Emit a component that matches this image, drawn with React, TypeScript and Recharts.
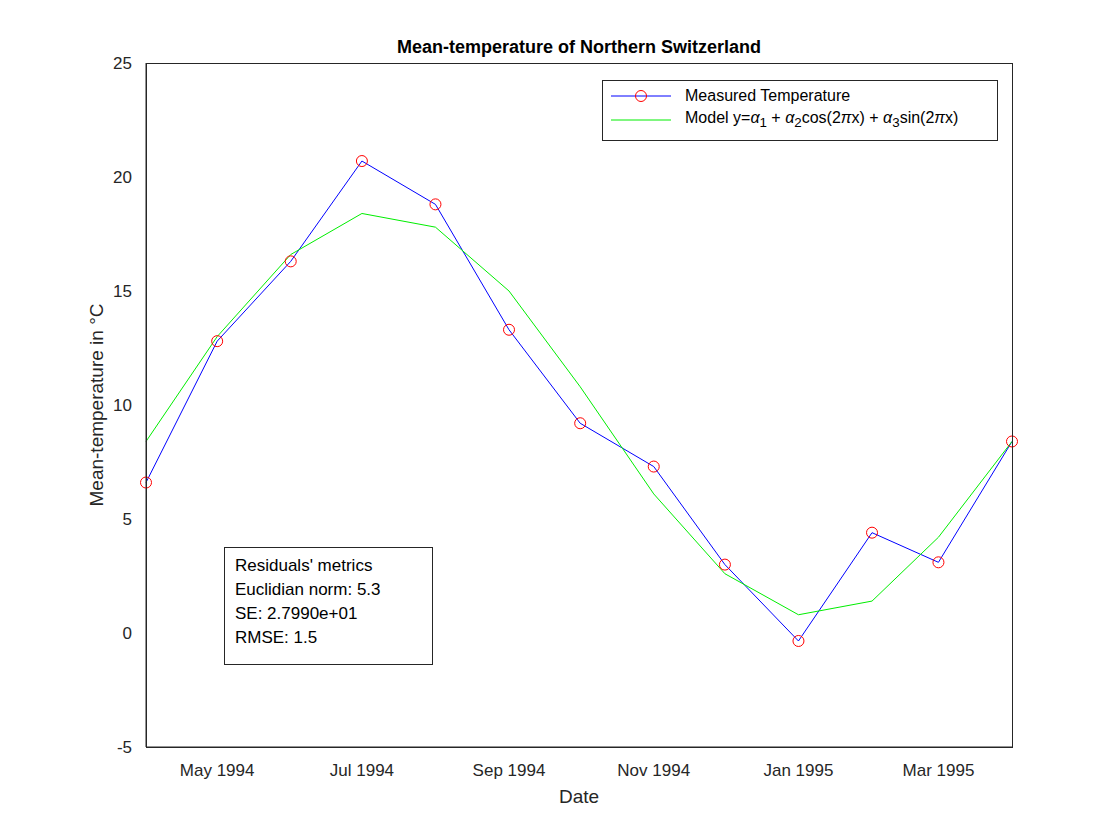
import { ComposedChart, Line, XAxis, YAxis, Label } from 'recharts'

// days since 1 Apr 1994
const days = [0, 30, 61, 91, 122, 153, 183, 214, 244, 275, 306, 334, 365]
const measured = [6.6, 12.8, 16.3, 20.7, 18.8, 13.3, 9.2, 7.3, 3.0, -0.35, 4.4, 3.1, 8.4]
const model = [8.4, 13.0, 16.6, 18.4, 17.8, 15.0, 10.8, 6.1, 2.6, 0.8, 1.4, 4.2, 8.4]
const xTicks = [30, 91, 153, 214, 275, 334]
const xTickLabels = ['May 1994', 'Jul 1994', 'Sep 1994', 'Nov 1994', 'Jan 1995', 'Mar 1995']
const yTicks = [-5, 0, 5, 10, 15, 20, 25]

const data = days.map((d, i) => ({ d, measured: measured[i], model: model[i] }))
const font = 'Liberation Sans, Arial, sans-serif'
const tickStyle = { fontSize: 17, fill: '#262626', fontFamily: font }

const Circle = (p: any) => (
  <circle cx={p.cx} cy={p.cy} r={5.5} fill="none" stroke="#ff0000" strokeWidth={1} />
)

export default function App() {
  return (
    <div style={{ margin: -8, position: 'relative', width: 1120, height: 840, background: '#fff', fontFamily: font }}>
      <ComposedChart width={1120} height={840} data={data} margin={{ top: 63, right: 108, bottom: 63, left: 106 }}>
        <XAxis dataKey="d" type="number" domain={[0, 365]} ticks={xTicks}
          tickFormatter={(v: number) => xTickLabels[xTicks.indexOf(v)]}
          tick={tickStyle} height={30} stroke="#262626" tickSize={0} tickMargin={17}>
          <Label value="Date" position="insideBottom" offset={-26} style={{ fontSize: 19, fill: '#262626', fontFamily: font }} />
        </XAxis>
        <YAxis domain={[-5, 25]} ticks={yTicks} tick={tickStyle} width={40} stroke="#262626" tickSize={0} tickMargin={14}>
          <Label value="Mean-temperature in °C" angle={-90} position="insideLeft" offset={-10}
            style={{ fontSize: 19, fill: '#262626', fontFamily: font, textAnchor: 'middle' }} />
        </YAxis>
        <Line dataKey="measured" stroke="#0000ff" strokeWidth={1} dot={<Circle />} isAnimationActive={false} />
        <Line dataKey="model" stroke="#00ee00" strokeWidth={1} dot={false} isAnimationActive={false} />
        <text x={579} y={53} textAnchor="middle" style={{ fontSize: 18, fontWeight: 'bold', fill: '#000', fontFamily: font }}>
          Mean-temperature of Northern Switzerland
        </text>
      </ComposedChart>
      <div style={{ position: 'absolute', left: 146, top: 63, width: 867, height: 685, border: '1px solid #262626', boxSizing: 'border-box', pointerEvents: 'none' }} />
      <div style={{ position: 'absolute', left: 602, top: 80, width: 396, height: 61, border: '1px solid #262626', boxSizing: 'border-box', background: '#fff', fontSize: 16, color: '#000' }}>
        <div style={{ position: 'absolute', left: 8, top: 6, display: 'flex', alignItems: 'center' }}>
          <svg width={60} height={14}><line x1={0} y1={7} x2={60} y2={7} stroke="#0000ff" /><circle cx={30} cy={7} r={5.5} fill="none" stroke="#ff0000" /></svg>
          <span style={{ marginLeft: 14 }}>Measured Temperature</span>
        </div>
        <div style={{ position: 'absolute', left: 8, top: 28, display: 'flex', alignItems: 'center', whiteSpace: 'nowrap' }}>
          <svg width={60} height={14}><line x1={0} y1={7} x2={60} y2={7} stroke="#00ee00" /></svg>
          <span style={{ marginLeft: 14 }}>Model y=<i>α</i><sub>1</sub> + <i>α</i><sub>2</sub>cos(2<i>π</i>x) + <i>α</i><sub>3</sub>sin(2<i>π</i>x)</span>
        </div>
      </div>
      <div style={{ position: 'absolute', left: 224, top: 547, width: 209, height: 118, border: '1px solid #262626', boxSizing: 'border-box', background: '#fff', fontSize: 17, color: '#000', padding: '6px 10px', lineHeight: '24px' }}>
        <div>Residuals' metrics</div>
        <div>Euclidian norm: 5.3</div>
        <div>SE: 2.7990e+01</div>
        <div>RMSE: 1.5</div>
      </div>
    </div>
  )
}
